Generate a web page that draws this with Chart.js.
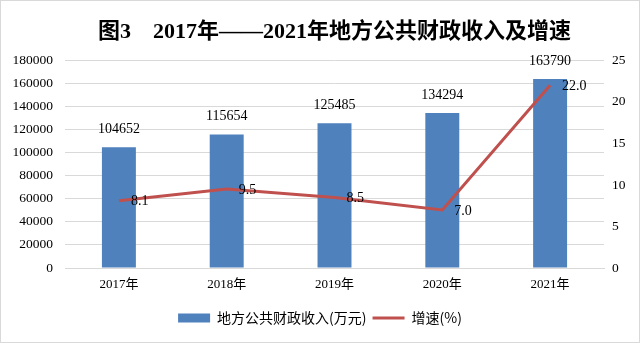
<!DOCTYPE html>
<html>
<head>
<meta charset="utf-8">
<script src="https://cdn.jsdelivr.net/npm/chart.js@4/dist/chart.umd.min.js"></script>
<style>
  html, body { margin: 0; padding: 0; background: #fff; }
  #wrap { width: 640px; height: 343px; position: relative; box-sizing: border-box; border: 1px solid #d9d9d9; }
</style>
</head>
<body>
<div id="wrap"><canvas id="c"></canvas></div>
<script>
const years = ["2017年", "2018年", "2019年", "2020年", "2021年"];
const revenue = [104652, 115654, 125485, 134294, 163790];
const growth = [8.1, 9.5, 8.5, 7.0, 22.0];

const serif = "'Liberation Serif', 'Noto Sans CJK SC', serif";
const blue = "#4F81BD";
const red = "#C0504D";

// value labels: bars get theirs above, line points to the right
const valueLabels = {
  id: "valueLabels",
  afterDatasetsDraw(chart) {
    const ctx = chart.ctx;
    ctx.save();
    ctx.font = "14px " + serif;
    ctx.fillStyle = "#000";
    ctx.textBaseline = "middle";
    chart.getDatasetMeta(0).data.forEach((bar, i) => {
      ctx.textAlign = "center";
      ctx.fillText(String(revenue[i]), bar.x, bar.y - 18);
    });
    chart.getDatasetMeta(1).data.forEach((pt, i) => {
      ctx.textAlign = "left";
      ctx.fillText(growth[i].toFixed(1), pt.x + 12, pt.y + 1);
    });
    ctx.restore();
  }
};

new Chart(document.getElementById("c"), {
  data: {
    labels: years,
    datasets: [
      {
        type: "bar",
        label: "地方公共财政收入(万元)",
        data: revenue,
        backgroundColor: blue,
        barPercentage: 0.315,
        categoryPercentage: 1,
        yAxisID: "y",
        order: 2
      },
      {
        type: "line",
        label: "增速(%)",
        data: growth,
        borderColor: red,
        backgroundColor: red,
        borderWidth: 3,
        pointRadius: 0,
        tension: 0,
        yAxisID: "y1",
        order: 1
      }
    ]
  },
  options: {
    responsive: true,
    maintainAspectRatio: false,
    animation: false,
    layout: { padding: { left: 0, right: 0, top: 0, bottom: 7 } },
    plugins: {
      title: {
        display: true,
        fullSize: false,
        text: "图3　2017年——2021年地方公共财政收入及增速",
        font: { size: 22, weight: "bold", family: serif },
        color: "#000",
        padding: { top: 18, bottom: 15 }
      },
      legend: {
        position: "bottom",
        labels: {
          font: { size: 14, family: "'Noto Sans CJK SC', serif" },
          color: "#404040",
          usePointStyle: true,
          pointStyleWidth: 32,
          boxHeight: 9,
          padding: 6,
          generateLabels(chart) {
            return chart.data.datasets.map((ds, i) => ({
              text: ds.label,
              pointStyle: ds.type === "bar" ? "rect" : "line",
              fillStyle: ds.type === "bar" ? blue : red,
              strokeStyle: ds.type === "bar" ? blue : red,
              lineWidth: ds.type === "bar" ? 0 : 3,
              datasetIndex: i
            }));
          }
        }
      },
      tooltip: { enabled: false }
    },
    scales: {
      x: {
        grid: { display: false, drawTicks: false },
        border: { color: "#d9d9d9" },
        ticks: { font: { size: 13, family: serif }, color: "#000", padding: 9 },
        afterFit: s => { s.height = 37; }
      },
      y: {
        position: "left",
        min: 0,
        max: 180000,
        ticks: { stepSize: 20000, font: { size: 13.5, family: serif }, color: "#000", padding: 12, callback: v => String(v) },
        grid: { color: "#d9d9d9", drawTicks: false },
        border: { display: false },
        afterFit: s => { s.width = 64; }
      },
      y1: {
        position: "right",
        min: 0,
        max: 25,
        ticks: { stepSize: 5, font: { size: 13.5, family: serif }, color: "#000", padding: 8 },
        grid: { display: false, drawTicks: false },
        border: { display: false },
        afterFit: s => { s.width = 35; }
      }
    }
  },
  plugins: [valueLabels]
});
</script>
</body>
</html>
